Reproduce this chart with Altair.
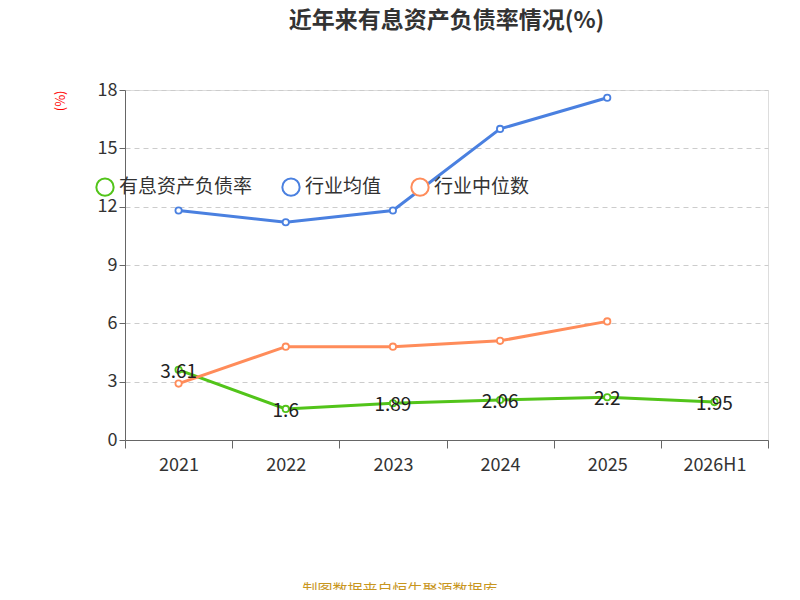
import altair as alt
import pandas as pd

years = ["2021", "2022", "2023", "2024", "2025", "2026H1"]
company = [3.61, 1.6, 1.89, 2.06, 2.2, 1.95]
avg = [11.8, 11.2, 11.8, 16.0, 17.6, None]
median = [2.9, 4.8, 4.8, 5.1, 6.1, None]
names = ["有息资产负债率", "行业均值", "行业中位数"]
colors = ["#52c41a", "#4a80e0", "#ff8c5a"]

rows = []
for i, y in enumerate(years):
    for n, s in zip(names, [company, avg, median]):
        if s[i] is not None:
            rows.append({"year": y, "series": n, "value": s[i]})
df = pd.DataFrame(rows)
comp = df[df.series == names[0]]

x = alt.X("year:N", sort=years, scale=alt.Scale(type="band", paddingInner=0, paddingOuter=0),
          bandPosition=0.5,
          axis=alt.Axis(title=None, labelAngle=0, labelFontSize=18, labelColor="#333",
                        tickBand="extent", domainColor="#666", tickColor="#666", tickSize=8,
                        labelPadding=8, grid=False))
y = alt.Y("value:Q", scale=alt.Scale(domain=[0, 18]),
          axis=alt.Axis(values=[0, 3, 6, 9, 12, 15, 18], title="(%)", titleColor="red",
                        titleFontSize=13, titleFontWeight="normal", titleAnchor="end",
                        titlePadding=30, labelFontSize=18, labelColor="#333",
                        domainColor="#666", tickColor="#666", tickSize=6,
                        gridDash=[5, 4], gridColor="#ccc"))
color = alt.Color("series:N", sort=names, scale=alt.Scale(domain=names, range=colors),
                  legend=alt.Legend(title=None, orient="none", direction="horizontal",
                                    legendX=-30, legendY=84 + 350 - 350 + 437 - 90 + 0 - 0 if False else 87,
                                    labelFontSize=19,
                                    labelColor="#333", symbolType="circle", symbolFillColor="white",
                                    symbolStrokeWidth=2, symbolSize=300, columnPadding=25))
color.legend.legendY = 435

lines = alt.Chart(df).mark_line(strokeWidth=3).encode(x=x, y=y, color=color)
pts = alt.Chart(df).mark_point(filled=False, fill="white", fillOpacity=1, size=40, strokeWidth=1.8,
                               opacity=1).encode(x=x, y=y, color=alt.Color("series:N", sort=names, legend=None,
                                                  scale=alt.Scale(domain=names, range=colors)))
labels = alt.Chart(comp).mark_text(fontSize=19, color="#222", dy=2).encode(
    x=x, y="value:Q", text=alt.Text("value:Q"))
footer = alt.Chart(pd.DataFrame({"t": ["制图数据来自恒生聚源数据库"]})).mark_text(
    fontSize=15, color="#c8961e").encode(x=alt.value(275), y=alt.value(500), text="t:N")

chart = alt.layer(lines, pts, labels, footer).properties(
    width=643, height=350,
    title=alt.TitleParams("近年来有息资产负债率情况(%)", fontSize=23, fontWeight="bold",
                          color="#333", offset=48, anchor="middle"),
    autosize=alt.AutoSizeParams(type="none"),
    padding={"left": 117, "top": 82, "right": 24, "bottom": 150},
).configure_view(stroke=None).configure(font="Noto Sans CJK SC")

chart.save("out.html", embed_options={"renderer": "svg", "actions": False})
